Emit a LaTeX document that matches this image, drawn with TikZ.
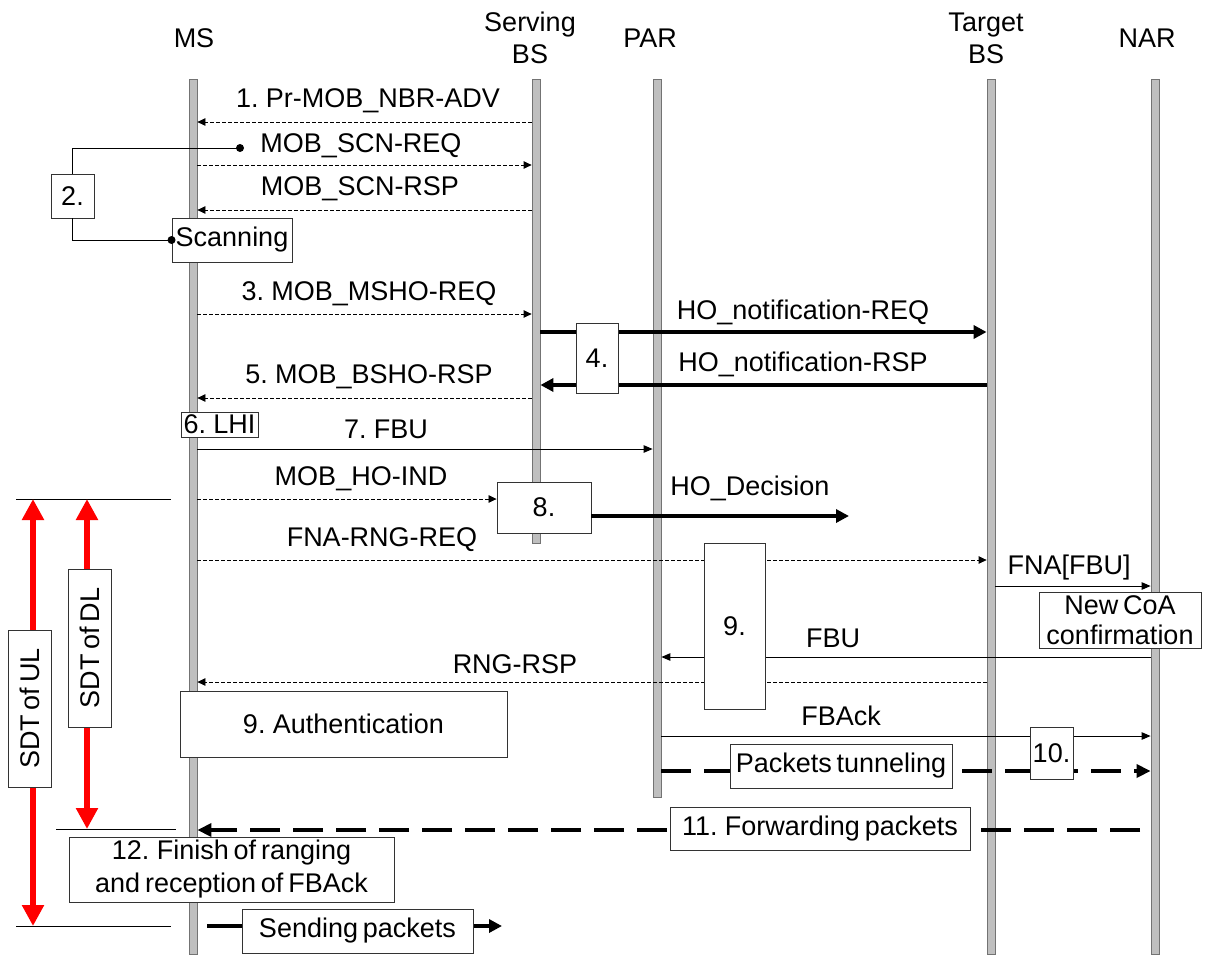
\documentclass[tikz,border=0pt]{standalone}
\usepackage{fontspec}
\setmainfont{Liberation Sans}[WordSpace=0.65]
\usetikzlibrary{arrows.meta}
\begin{document}
\begin{tikzpicture}[x=1pt,y=-1pt,
  every node/.style={font=\fontsize{27}{32}\selectfont, inner sep=0pt},
  bar/.style={draw=black!55, fill=black!25, line width=0.8pt, minimum width=8pt, anchor=north, inner sep=0pt},
  box/.style={draw=black!80, fill=white, line width=0.9pt, align=center, inner sep=0pt},
  dmsg/.style={line width=0.8pt, dash pattern=on 3.5pt off 2.5pt, -{Triangle[length=8pt,width=7.5pt]}},
  smsg/.style={line width=1pt, -{Triangle[length=9pt,width=7.5pt]}},
  tmsg/.style={line width=4.2pt, -{Triangle[length=13pt,width=13pt]}},
  tdash/.style={line width=4.2pt, dash pattern=on 30pt off 13pt, -{Triangle[length=14pt,width=13pt]}},
  sdt/.style={red, line width=6.8pt, {Triangle[length=21pt,width=21pt]}-{Triangle[length=21pt,width=21pt]}},
  thinl/.style={line width=0.9pt},
  dotn/.style={circle, fill=black, minimum size=8pt, inner sep=0pt}
]
\useasboundingbox (0,0) rectangle (1205,954);

% lifelines
\node[bar, minimum height=875pt] (ms) at (193,79) {};
\node[bar, minimum height=464pt] (sbs) at (536,79) {};
\node[bar, minimum height=718pt] (par) at (657,79) {};
\node[bar, minimum height=875pt] (tbs) at (991,79) {};
\node[bar, minimum height=875pt] (nar) at (1155,79) {};

% headers
\node (hms) at (194,38) {MS};
\node[align=center] (hsbs) at (530,38) {Serving\\BS};
\node (hpar) at (650,38) {PAR};
\node[align=center] (htbs) at (986,38) {Target\\BS};
\node (hnar) at (1147,38) {NAR};

% 1.
\node (l1) at (368,101) {1. Pr-MOB\_NBR-ADV};
\draw[dmsg] (sbs.west |- 0,122) -- (ms.east |- 0,122);
% 2.
\node (l2) at (361,146) {MOB\_SCN-REQ};
\draw[dmsg] (ms.east |- 0,165) -- (sbs.west |- 0,165);
\node (l3) at (360,189) {MOB\_SCN-RSP};
\draw[dmsg] (sbs.west |- 0,210) -- (ms.east |- 0,210);
\node[box, minimum width=120pt, minimum height=44pt] (scan) at (232,240) {Scanning};
\node[box, minimum width=43pt, minimum height=44pt] (b2) at (72.5,196) {2.};
\node[dotn] (d1) at (240,148) {};
\node[dotn] (d2) at (scan.west) {};
\draw[thinl] (d1.center) -| (b2.north);
\draw[thinl] (b2.south) |- (d2.center);

% 3.
\node (l4) at (369,294) {3. MOB\_MSHO-REQ};
\draw[dmsg] (ms.east |- 0,314) -- (sbs.west |- 0,314);

% 4.
\node (l5) at (803,312) {HO\_notification-REQ};
\draw[tmsg] (sbs.east |- 0,332) -- (tbs.west |- 0,332);
\node (l6) at (803,364) {HO\_notification-RSP};
\draw[tmsg] (tbs.west |- 0,385) -- (sbs.east |- 0,385);
\node[box, minimum width=42pt, minimum height=70pt] (b4) at (597,358) {4.};

% 5.
\node (l7) at (369,377) {5. MOB\_BSHO-RSP};
\draw[dmsg] (sbs.west |- 0,398) -- (ms.east |- 0,398);

% 6. 7.
\node[box, minimum width=77pt, minimum height=25pt] (b6) at (219.5,424.5) {6. LHI};
\node (l8) at (386,429) {7. FBU};
\draw[smsg] (ms.east |- 0,449) -- (par.west |- 0,449);

% 8.
\node (l9) at (361,479) {MOB\_HO-IND};
\node[box, minimum width=94pt, minimum height=51pt] (b8) at (544,507.5) {8.};
\draw[dmsg] (ms.east |- 0,499) -- (b8.west |- 0,499);
\node (l10) at (750,488) {HO\_Decision};
\coordinate (hod) at (849,516);
\draw[tmsg] (b8.east |- 0,516) -- (hod);

% FNA-RNG-REQ etc
\node (l11) at (382,540) {FNA-RNG-REQ};
\draw[dmsg] (ms.east |- 0,560) -- (tbs.west |- 0,560);
\node (l12) at (1069,568) {FNA[FBU]};
\draw[smsg] (tbs.east |- 0,586) -- (nar.west |- 0,586);
\node[box, minimum width=162pt, minimum height=56pt, font=\fontsize{27}{30}\selectfont] (bcoa) at (1120,620) {New CoA\\confirmation};
\node (l13) at (833,638) {FBU};
\draw[smsg] (nar.west |- 0,657) -- (par.east |- 0,657);
\node (l14) at (515,664) {RNG-RSP};
\draw[dmsg] (tbs.west |- 0,682) -- (ms.east |- 0,682);
\node[box, minimum width=61pt, minimum height=166pt] (b9) at (734.5,626) {9.};

\node[box, minimum width=327pt, minimum height=66pt] (bauth) at (343.5,724) {9. Authentication};

\node (l15) at (841,716) {FBAck};
\draw[smsg] (par.east |- 0,736) -- (nar.west |- 0,736);
\draw[tdash] (par.east |- 0,771) -- (nar.west |- 0,771);
\node[box, minimum width=222pt, minimum height=44pt] (btun) at (841,766) {Packets tunneling};
\node[box, minimum width=43pt, minimum height=52pt] (b10) at (1051.5,753) {10.};

% 11.
\coordinate (fwd) at (1140,830);
\draw[tdash] (fwd) -- (ms.east |- 0,830);
\node[box, minimum width=300pt, minimum height=43pt] (b11) at (820,828.5) {11. Forwarding packets};

% 12.
\node[box, minimum width=325pt, minimum height=65pt, font=\fontsize{27}{33}\selectfont] (b12) at (231.5,869.5) {12. Finish of ranging\\and reception of FBAck};

% sending packets
\coordinate (sp1) at (207,926);
\coordinate (sp2) at (502,926);
\draw[tmsg] (sp1) -- (sp2);
\node[box, minimum width=231pt, minimum height=44pt] (bsend) at (357.5,931) {Sending packets};

% SDT
\coordinate (t1a) at (16,499); \coordinate (t1b) at (171,499);
\coordinate (t2a) at (56,829); \coordinate (t2b) at (176,829);
\coordinate (t3a) at (16,926); \coordinate (t3b) at (171,926);
\draw[thinl] (t1a) -- (t1b);
\draw[thinl] (t2a) -- (t2b);
\draw[thinl] (t3a) -- (t3b);
\coordinate (ulT) at (33,499); \coordinate (ulB) at (33,926);
\coordinate (dlT) at (87,499); \coordinate (dlB) at (87,829);
\draw[sdt] (ulT) -- (ulB);
\draw[sdt] (dlT) -- (dlB);
\node[box, rotate=90, minimum width=157pt, minimum height=43pt] (bul) at (29.5,708.5) {SDT of UL};
\node[box, rotate=90, minimum width=158pt, minimum height=43pt] (bdl) at (89.5,648) {SDT of DL};
\end{tikzpicture}
\end{document}
